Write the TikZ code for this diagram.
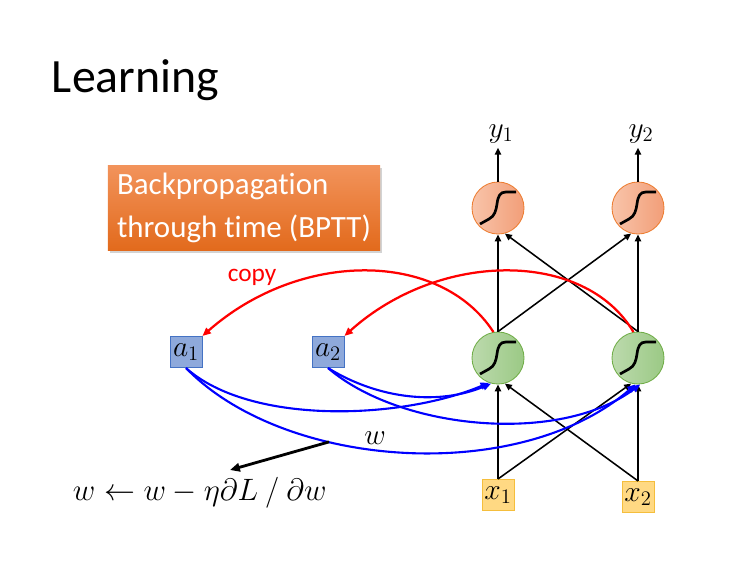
\RequirePackage{fix-cm}
\documentclass[tikz,border=0pt]{standalone}
\usepackage{amsmath}
\usepackage{fontspec}
\setmainfont{Carlito}[Ligatures=NoCommon]
\usepackage{tikz}
\usetikzlibrary{arrows.meta, shadows}
\usepackage{xcolor}
\definecolor{laranjaborda}{HTML}{ED7D31}
\definecolor{laranjaclaro}{HTML}{F8C4AA}
\definecolor{laranjaescuro}{HTML}{F29E78}
\definecolor{verdeborda}{HTML}{70AD47}
\definecolor{verdeclaro}{HTML}{BCDAAD}
\definecolor{verdeescuro}{HTML}{9BC985}
\definecolor{azulborda}{HTML}{4472C4}
\definecolor{azulfundo}{HTML}{8EA9DB}
\definecolor{amareloborda}{HTML}{F5BE3C}
\definecolor{amarelofundo}{HTML}{FFD983}
\definecolor{caixatopo}{HTML}{F2935B}
\definecolor{caixabase}{HTML}{E26A1C}

\begin{document}
\begin{tikzpicture}[x=0.025cm, y=-0.025cm,
    neuronio/.style={circle, minimum size=1.3cm, inner sep=0pt, line width=0.6pt},
    saida/.style={neuronio, draw=laranjaborda, left color=laranjaclaro, right color=laranjaescuro},
    oculto/.style={neuronio, draw=verdeborda, left color=verdeclaro, right color=verdeescuro},
    memoria/.style={draw=azulborda, fill=azulfundo, minimum width=0.8cm, minimum height=0.78cm, inner sep=0pt, line width=0.6pt},
    entrada/.style={draw=amareloborda, fill=amarelofundo, minimum width=0.8cm, minimum height=0.78cm, inner sep=0pt, line width=0.6pt},
    rotulo/.style={font=\fontsize{21}{24}\selectfont},
    seta/.style={line width=1.1pt, -{Triangle[length=5pt, width=4.5pt]}},
    copia/.style={red, line width=1.6pt, -{Triangle[length=6pt, width=5pt]}},
    peso/.style={blue, line width=1.5pt, -{Triangle[length=6pt, width=5pt]}},
    sig/.style={line width=1.9pt}]
    \useasboundingbox (0,0) rectangle (747,579);

    % Titulo e caixa
    \node[anchor=base west, font=\fontsize{34}{40}\selectfont] (titulo) at (47,92) {Learning};
    \node[top color=caixatopo, bottom color=caixabase, minimum width=6.8cm, minimum height=2.125cm,
          align=left, text=white, font=\fontsize{22}{27}\selectfont,
          drop shadow={opacity=0.35, shadow xshift=1.5pt, shadow yshift=-1.5pt}]
          (bptt) at (244,208) {Backpropagation\\[3pt]through time (BPTT)};

    % Rede
    \node[saida] (o1) at (498,208) {};
    \node[saida] (o2) at (638,208) {};
    \node[oculto] (g1) at (498,358) {};
    \node[oculto] (g2) at (638,358) {};
    \node[entrada, rotulo] (x1) at (498,495) {$x_1$};
    \node[entrada, rotulo] (x2) at (638,497) {$x_2$};
    \node[memoria, rotulo] (a1) at (186,352) {$a_1$};
    \node[memoria, rotulo] (a2) at (328,352) {$a_2$};
    \node[rotulo, anchor=base] (y1) at (501,137) {$y_1$};
    \node[rotulo, anchor=base] (y2) at (641,137) {$y_2$};
    \foreach \n in {o1,o2,g1,g2}
        \draw[sig, shift={(\n.center)}] (-18,16) -- (-9,11) .. controls (-3,8) and (-2,2) .. (-1,-4)
            .. controls (0,-12) and (2,-16) .. (8,-16) -- (18,-16);

    \draw[seta] (x1.north) -- (g1.south);
    \draw[seta] (x1.north) -- (g2.255);
    \draw[seta] (x2.north) -- (g2.south);
    \draw[seta] (x2.north) -- (g1.285);
    \draw[seta] (g1.north) -- (o1.south);
    \draw[seta] (g1.north) -- (o2.255);
    \draw[seta] (g2.north) -- (o2.south);
    \draw[seta] (g2.north) -- (o1.285);
    \draw[seta] (o1.north) -- (y1.south -| o1.north);
    \draw[seta] (o2.north) -- (y2.south -| o2.north);

    % Copia
    \draw[copia] (g1.100) .. controls (440,250) and (300,250) .. (a1.north east);
    \draw[copia] (g2.100) .. controls (585,250) and (440,250) .. (a2.north east);
    \node[red, font=\fontsize{18}{22}\selectfont] (copy) at (252,277) {copy};

    % Pesos
    \draw[peso] (a1.south) .. controls (250,425) and (400,420) .. (g1.250);
    \draw[peso] (a1.south) .. controls (285,470) and (520,485) .. coordinate[pos=0.35] (wpt) (g2.265);
    \draw[peso] (a2.south) .. controls (380,400) and (440,405) .. (g1.255);
    \draw[peso] (a2.south) .. controls (400,430) and (560,445) .. (g2.275);
    \node[rotulo, anchor=base] (w) at (375,444) {$w$};

    \node[anchor=base west, font=\fontsize{22}{26}\selectfont] (regra) at (68,500)
        {$w \leftarrow w - \eta\partial L \ / \ \partial w$};
    \coordinate (wtip) at (230,470);
    \draw[line width=2pt, -{Triangle[length=7pt, width=6pt]}] (wpt) -- (wtip);
\end{tikzpicture}
\end{document}
